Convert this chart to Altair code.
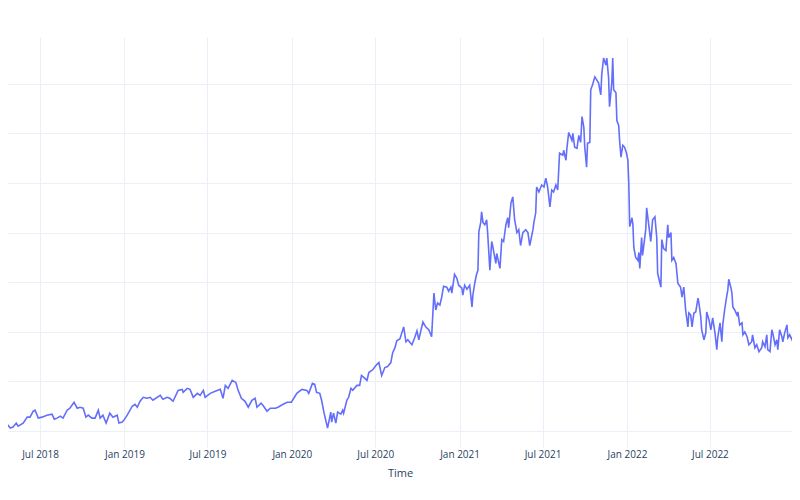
import altair as alt
import pandas as pd

dates = [
    "2018-04-05", "2018-04-16", "2018-04-20", "2018-04-27", "2018-05-03", "2018-05-10", "2018-05-14", "2018-05-25",
    "2018-06-03", "2018-06-09", "2018-06-16", "2018-06-20", "2018-06-27", "2018-07-05", "2018-07-16", "2018-07-27",
    "2018-08-01", "2018-08-07", "2018-08-14", "2018-08-20", "2018-08-29", "2018-09-04", "2018-09-13", "2018-09-20",
    "2018-09-26", "2018-10-03", "2018-10-09", "2018-10-14", "2018-10-22", "2018-10-29", "2018-11-05", "2018-11-09",
    "2018-11-15", "2018-11-22", "2018-11-30", "2018-12-07", "2018-12-16", "2018-12-20", "2018-12-27", "2018-12-31",
    "2019-01-07", "2019-01-18", "2019-01-24", "2019-01-29", "2019-02-04", "2019-02-11", "2019-02-19", "2019-02-26",
    "2019-03-04", "2019-03-20", "2019-03-26", "2019-04-04", "2019-04-10", "2019-04-17", "2019-04-28", "2019-05-07",
    "2019-05-09", "2019-05-18", "2019-05-24", "2019-05-31", "2019-06-09", "2019-06-15", "2019-06-22", "2019-06-26",
    "2019-07-07", "2019-07-18", "2019-07-29", "2019-08-04", "2019-08-09", "2019-08-15", "2019-08-24", "2019-09-01",
    "2019-09-06", "2019-09-13", "2019-09-21", "2019-09-28", "2019-10-06", "2019-10-13", "2019-10-17", "2019-10-26",
    "2019-10-30", "2019-11-08", "2019-11-15", "2019-11-26", "2019-12-02", "2019-12-13", "2019-12-22", "2019-12-31",
    "2020-01-12", "2020-01-23", "2020-02-03", "2020-02-07", "2020-02-15", "2020-02-20", "2020-02-24", "2020-03-02",
    "2020-03-06", "2020-03-11", "2020-03-15", "2020-03-19", "2020-03-26", "2020-03-28", "2020-04-01", "2020-04-06",
    "2020-04-10", "2020-04-17", "2020-04-21", "2020-04-23", "2020-04-30", "2020-05-04", "2020-05-09", "2020-05-13",
    "2020-05-22", "2020-05-28", "2020-06-01", "2020-06-06", "2020-06-13", "2020-06-17", "2020-06-26", "2020-07-04",
    "2020-07-09", "2020-07-15", "2020-07-22", "2020-07-28", "2020-08-04", "2020-08-08", "2020-08-13", "2020-08-17",
    "2020-08-24", "2020-09-01", "2020-09-06", "2020-09-10", "2020-09-19", "2020-09-25", "2020-09-30", "2020-10-04",
    "2020-10-13", "2020-10-19", "2020-10-26", "2020-11-01", "2020-11-06", "2020-11-10", "2020-11-14", "2020-11-19",
    "2020-11-23", "2020-11-27", "2020-12-04", "2020-12-08", "2020-12-13", "2020-12-15", "2020-12-21", "2020-12-26",
    "2020-12-30", "2021-01-06", "2021-01-08", "2021-01-12", "2021-01-17", "2021-01-23", "2021-01-28", "2021-01-30",
    "2021-02-03", "2021-02-07", "2021-02-10", "2021-02-12", "2021-02-16", "2021-02-18", "2021-02-21", "2021-02-25",
    "2021-03-01", "2021-03-03", "2021-03-08", "2021-03-12", "2021-03-14", "2021-03-21", "2021-03-23", "2021-03-30",
    "2021-04-03", "2021-04-07", "2021-04-12", "2021-04-16", "2021-04-18", "2021-04-23", "2021-04-27", "2021-05-01",
    "2021-05-06", "2021-05-10", "2021-05-14", "2021-05-19", "2021-05-25", "2021-05-30", "2021-06-03", "2021-06-10",
    "2021-06-12", "2021-06-16", "2021-06-18", "2021-06-23", "2021-06-29", "2021-07-04", "2021-07-08", "2021-07-12",
    "2021-07-17", "2021-07-21", "2021-07-25", "2021-07-30", "2021-08-03", "2021-08-07", "2021-08-14", "2021-08-16",
    "2021-08-21", "2021-08-23", "2021-08-27", "2021-09-03", "2021-09-05", "2021-09-09", "2021-09-14", "2021-09-18",
    "2021-09-22", "2021-09-25", "2021-09-29", "2021-10-01", "2021-10-05", "2021-10-07", "2021-10-12", "2021-10-14",
    "2021-10-18", "2021-10-23", "2021-10-27", "2021-10-31", "2021-11-05", "2021-11-07", "2021-11-11", "2021-11-16",
    "2021-11-18", "2021-11-22", "2021-11-24", "2021-11-29", "2021-12-01", "2021-12-03", "2021-12-08", "2021-12-10",
    "2021-12-14", "2021-12-16", "2021-12-19", "2021-12-23", "2021-12-27", "2021-12-31", "2022-01-03", "2022-01-05",
    "2022-01-07", "2022-01-12", "2022-01-14", "2022-01-16", "2022-01-20", "2022-01-25", "2022-01-27", "2022-01-29",
    "2022-02-02", "2022-02-04", "2022-02-11", "2022-02-13", "2022-02-18", "2022-02-22", "2022-02-26", "2022-03-03",
    "2022-03-07", "2022-03-09", "2022-03-16", "2022-03-18", "2022-03-22", "2022-03-27", "2022-03-31", "2022-04-02",
    "2022-04-07", "2022-04-09", "2022-04-13", "2022-04-18", "2022-04-22", "2022-04-28", "2022-05-01", "2022-05-05",
    "2022-05-09", "2022-05-14", "2022-05-16", "2022-05-20", "2022-05-23", "2022-05-27", "2022-05-31", "2022-06-05",
    "2022-06-07", "2022-06-11", "2022-06-13", "2022-06-18", "2022-06-22", "2022-06-24", "2022-06-29", "2022-07-03",
    "2022-07-07", "2022-07-12", "2022-07-16", "2022-07-18", "2022-07-23", "2022-07-27", "2022-07-29", "2022-08-02",
    "2022-08-07", "2022-08-09", "2022-08-11", "2022-08-16", "2022-08-18", "2022-08-20", "2022-08-24", "2022-08-29",
    "2022-08-31", "2022-09-04", "2022-09-09", "2022-09-11", "2022-09-15", "2022-09-20", "2022-09-24", "2022-09-30",
    "2022-10-02", "2022-10-07", "2022-10-11", "2022-10-16", "2022-10-22", "2022-10-24", "2022-10-29", "2022-11-02",
    "2022-11-04", "2022-11-09", "2022-11-13", "2022-11-15", "2022-11-20", "2022-11-24", "2022-11-26", "2022-11-30",
    "2022-12-05", "2022-12-07", "2022-12-11", "2022-12-16", "2022-12-18", "2022-12-22", "2022-12-27", "2022-12-29",
    "2023-01-02", "2023-01-07", "2023-01-09", "2023-01-13",
]

values = [
    105, 106, 107, 103, 104, 108, 105, 108,
    114, 114, 120, 121, 113, 114, 116, 117,
    112, 113, 115, 113, 121, 123, 129, 123,
    124, 123, 114, 116, 113, 113, 121, 113,
    116, 108, 118, 114, 116, 108, 109, 111,
    116, 125, 127, 124, 130, 134, 133, 134,
    131, 136, 132, 134, 133, 130, 141, 142,
    139, 143, 142, 134, 138, 136, 141, 134,
    138, 140, 142, 133, 146, 143, 151, 149,
    141, 133, 130, 124, 131, 133, 124, 128,
    126, 120, 123, 123, 124, 127, 129, 129,
    138, 142, 141, 138, 148, 147, 139, 138,
    131, 119, 111, 103, 119, 109, 118, 108,
    119, 117, 121, 118, 131, 134, 143, 141,
    146, 146, 156, 154, 151, 159, 162, 167,
    169, 156, 164, 165, 169, 179, 184, 191,
    193, 205, 190, 192, 187, 194, 201, 192,
    210, 205, 202, 195, 239, 222, 229, 227,
    235, 246, 245, 241, 245, 239, 258, 254,
    247, 244, 237, 247, 243, 247, 225, 237,
    249, 258, 262, 301, 310, 321, 310, 308,
    313, 301, 262, 291, 287, 269, 279, 264,
    293, 291, 308, 315, 305, 330, 336, 313,
    300, 303, 287, 300, 303, 300, 287, 303,
    310, 320, 346, 341, 348, 346, 355, 346,
    326, 343, 341, 348, 343, 380, 378, 383,
    373, 385, 401, 393, 400, 386, 385, 398,
    391, 417, 406, 386, 366, 390, 391, 444,
    449, 457, 454, 451, 439, 459, 476, 469,
    476, 456, 427, 451, 476, 444, 441, 413,
    408, 393, 376, 388, 386, 380, 373, 350,
    306, 315, 308, 285, 275, 272, 280, 264,
    295, 277, 303, 325, 306, 291, 313, 316,
    295, 259, 245, 293, 284, 282, 308, 295,
    300, 272, 275, 269, 249, 245, 235, 245,
    222, 205, 219, 217, 205, 219, 220, 234,
    229, 215, 202, 192, 199, 220, 212, 202,
    214, 199, 182, 194, 209, 190, 207, 222,
    237, 242, 253, 244, 239, 225, 222, 217,
    220, 207, 209, 197, 200, 195, 187, 190,
    197, 184, 187, 180, 184, 190, 185, 197,
    182, 180, 202, 199, 187, 192, 182, 202,
    195, 190, 199, 207, 194, 197, 192, 195,
    197, 190, 195, 204,
]

grid_values = [100, 150, 200, 250, 300, 350, 400, 450]
tick_months = [(2018, 7), (2019, 1), (2019, 7), (2020, 1), (2020, 7),
               (2021, 1), (2021, 7), (2022, 1), (2022, 7)]
x_start = (2018, 4, 22)
x_end = (2022, 12, 27)
y_range = [83.9, 497.2]

df = pd.DataFrame({"Time": dates, "value": values})

text_color = "#2a3f5f"
grid_color = "#EBF0F8"

x_enc = alt.X(
    "Time:T",
    scale=alt.Scale(
        type="utc",
        domain=[alt.DateTime(year=x_start[0], month=x_start[1], date=x_start[2], utc=True),
                alt.DateTime(year=x_end[0], month=x_end[1], date=x_end[2], utc=True)],
    ),
    axis=alt.Axis(
        values=[alt.DateTime(year=y, month=m, date=1, utc=True) for y, m in tick_months],
        labelExpr="utcFormat(datum.value, '%b %Y')",
        grid=True,
        gridColor=grid_color,
        gridWidth=1,
        domain=False,
        ticks=False,
        labelColor=text_color,
        labelFont="Open Sans",
        labelFontSize=10,
        labelPadding=2,
        labelFlush=False,
        labelOverlap=False,
        title="Time",
        titleFont="Open Sans",
        titleFontSize=11,
        titleFontWeight="normal",
        titleColor=text_color,
        titlePadding=8,
    ),
)

y_enc = alt.Y(
    "value:Q",
    scale=alt.Scale(domain=y_range, nice=False, zero=False),
    axis=alt.Axis(
        values=grid_values,
        labels=False,
        ticks=False,
        domain=False,
        grid=True,
        gridColor=grid_color,
        gridWidth=1,
        title="",
    ),
)

chart = (
    alt.Chart(df)
    .mark_line(color="#636efa", strokeWidth=1.6, clip=True)
    .encode(x=x_enc, y=y_enc)
    .properties(
        width=784,
        height=410,
        padding={"left": 0, "top": 29, "right": 0, "bottom": 40},
        autosize=alt.AutoSizeParams(type="none"),
        background="white",
    )
    .configure_view(strokeWidth=0)
)

chart.save("out.html", embed_options={"renderer": "svg", "actions": False})
